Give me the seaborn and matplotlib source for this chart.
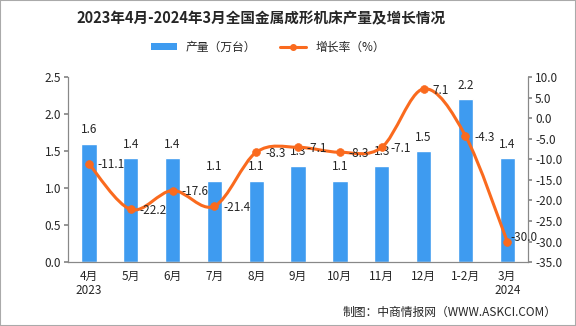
import matplotlib
matplotlib.use("Agg")
import matplotlib.pyplot as plt
import seaborn as sns
import numpy as np
import pandas as pd
from matplotlib.path import Path
from matplotlib.patches import PathPatch, Patch, Rectangle
from matplotlib.lines import Line2D

months = ["4月", "5月", "6月", "7月", "8月", "9月", "10月", "11月", "12月", "1-2月", "3月"]
tick_labels = ["4月\n2023", "5月", "6月", "7月", "8月", "9月", "10月", "11月", "12月", "1-2月", "3月\n2024"]
output = [1.6, 1.4, 1.4, 1.1, 1.1, 1.3, 1.1, 1.3, 1.5, 2.2, 1.4]
growth = [-11.1, -22.2, -17.6, -21.4, -8.3, -7.1, -8.3, -7.1, 7.1, -4.3, -30.0]

sns.set_theme(style="white")
plt.rcParams['font.family'] = ['Noto Sans CJK SC', 'DejaVu Sans']

bar_color = "#3E9BF0"
line_color = "#FA6A1E"
fs = 8.5

fig = plt.figure(figsize=(5.76, 3.26), dpi=100)
ax = fig.add_axes([0.118, 0.196, 0.799, 0.568])

df = pd.DataFrame({"month": months, "output": output})
sns.barplot(data=df, x="month", y="output", color=bar_color, width=0.37, ax=ax, saturation=1)
ax.set_ylim(0, 2.5)
ax.set_xlim(-0.5, len(months) - 0.5)
ax.set_yticks(np.arange(0, 2.51, 0.5))
ax.set_yticklabels([f"{v:.1f}" for v in np.arange(0, 2.51, 0.5)])
ax.set_xlabel("")
ax.set_ylabel("")
ax.set_xticks(range(len(months)))
ax.set_xticklabels(tick_labels, fontsize=fs, linespacing=1.1)
ax.set_xticks(np.arange(-0.5, len(months), 1), minor=True)
ax.tick_params(axis="x", which="major", length=0, pad=6)
ax.tick_params(axis="x", which="minor", length=4, color="#888888", width=0.8)
ax.tick_params(axis="y", length=3, color="#888888", labelsize=fs, pad=2, left=True)
ax.spines["top"].set_visible(False)
for s in ["left", "bottom", "right"]:
    ax.spines[s].set_color("#888888")
    ax.spines[s].set_linewidth(0.8)

for i, v in enumerate(output):
    ax.text(i, v + 0.1, f"{v:.1f}", ha="center", va="bottom", fontsize=fs)

ax2 = ax.twinx()
ax2.set_ylim(-35, 10)
ax2.set_yticks(np.arange(-35, 10.1, 5))
ax2.set_yticklabels([f"{v:.1f}" for v in np.arange(-35, 10.1, 5)])
ax2.tick_params(axis="y", length=3, color="#888888", labelsize=fs, pad=2, right=True)
ax2.spines["top"].set_visible(False)
for s in ["left", "bottom", "right"]:
    ax2.spines[s].set_color("#888888")
    ax2.spines[s].set_linewidth(0.8)
ax2.grid(False)
ax.grid(False)

# smooth curve (Catmull-Rom as cubic Bezier path)
xs = np.arange(len(growth), dtype=float)
ys = np.array(growth, dtype=float)
verts = [(xs[0], ys[0])]
codes = [Path.MOVETO]
n = len(xs)
for i in range(n - 1):
    p0 = (xs[max(i - 1, 0)], ys[max(i - 1, 0)])
    p1 = (xs[i], ys[i])
    p2 = (xs[i + 1], ys[i + 1])
    p3 = (xs[min(i + 2, n - 1)], ys[min(i + 2, n - 1)])
    t = 1 / 6
    c1 = (p1[0] + (p2[0] - p0[0]) * t, p1[1] + (p2[1] - p0[1]) * t)
    c2 = (p2[0] - (p3[0] - p1[0]) * t, p2[1] - (p3[1] - p1[1]) * t)
    verts += [c1, c2, p2]
    codes += [Path.CURVE4] * 3
ax2.add_patch(PathPatch(Path(verts, codes), facecolor="none", edgecolor=line_color, lw=2.2, zorder=3))
sns.scatterplot(x=xs, y=ys, ax=ax2, color=line_color, s=32, edgecolor=line_color, zorder=4, legend=False)

for i, v in enumerate(growth):
    if i == len(growth) - 1:
        ax2.text(i + 0.08, v + 1.0, f"{v:.1f}", ha="left", va="center", fontsize=fs)
    else:
        ax2.text(i + 0.21, v - 0.3, f"{v:.1f}", ha="left", va="center", fontsize=fs)

fig.text(0.453, 0.945, "2023年4月-2024年3月全国金属成形机床产量及增长情况",
         ha="center", va="center", fontsize=10.5, fontweight="bold")

handles = [Patch(facecolor=bar_color, edgecolor="none"),
           Line2D([0], [0], color=line_color, lw=2.2, marker="o", markersize=4)]
fig.legend(handles, ["产量（万台）", "增长率（%）"], loc="center", bbox_to_anchor=(0.465, 0.855),
           ncol=2, frameon=False, fontsize=fs, handlelength=2.2, handleheight=0.6, columnspacing=2.0)

fig.text(0.967, 0.043, "制图：中商情报网（WWW.ASKCI.COM）", ha="right", va="center", fontsize=fs)

fig.patches.append(Rectangle((0, 0), 1, 1, transform=fig.transFigure, fill=False,
                             edgecolor="#AAAAAA", lw=1.5))

fig.savefig("out.png", dpi=100)
